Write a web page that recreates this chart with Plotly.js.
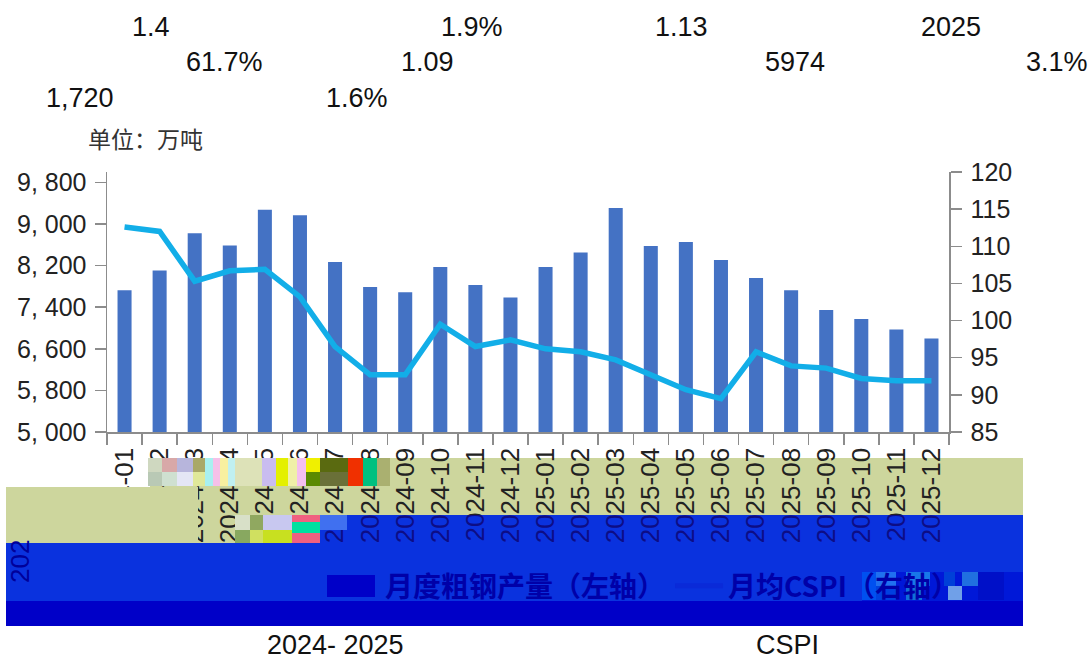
<!DOCTYPE html>
<html><head><meta charset="utf-8">
<script src="https://cdn.plot.ly/plotly-3.0.1.min.js"></script>
<style>html,body{margin:0;padding:0;background:#fff}#c{width:1091px;height:657px}</style>
</head><body><div id="c"></div>
<script>
const months=["2024-01","2024-02","2024-03","2024-04","2024-05","2024-06","2024-07","2024-08","2024-09","2024-10","2024-11","2024-12","2025-01","2025-02","2025-03","2025-04","2025-05","2025-06","2025-07","2025-08","2025-09","2025-10","2025-11","2025-12"];
const steelOutput=[7726,8105,8821,8585,9276,9166,8270,7790,7688,8174,7828,7586,8174,8450,9307,8577,8654,8308,7963,7726,7348,7175,6972,6799];
const cspi=[112.6,112.0,105.3,106.7,106.9,103.2,96.5,92.7,92.7,99.5,96.5,97.4,96.2,95.8,94.7,92.7,90.7,89.5,95.8,93.9,93.6,92.2,91.9,91.9];
const leftTicks=[5000,5800,6600,7400,8200,9000,9800];
const leftLabels=["5, 000","5, 800","6, 600","7, 400","8, 200","9, 000","9, 800"];
const rightTicks=[85,90,95,100,105,110,115,120];
const headerTexts=[["1.4",151,27],["1.9%",472,27],["1.13",681,27],["2025",951,27],["61.7%",224,62],["1.09",427,62],["5974",795,62],["3.1%",1057,62],["1,720",80,98],["1.6%",357,98],["2024- 2025",335,645],["CSPI",787,645]];
const seriesNames=["月度粗钢产量（左轴）","月均CSPI（右轴）"];
const W=1091,H=657,L=107,R=949,T=172,B=432;
const px=x=>(x-L)/(R-L), py=y=>(B-y)/(B-T);
function box(x0,y0,x1,y1,fill,layer,op){return {type:'rect',xref:'paper',yref:'paper',x0:px(x0),x1:px(x1),y0:py(y0),y1:py(y1),fillcolor:fill,line:{width:0},layer:layer||'above',opacity:op==null?1:op};}
const olive='#cdd69d';
// damaged-scan bands of the source picture
const shapes=[
 box(150,458,1023,487,olive,'below'),
 box(6,487,1023,515,olive,'below'),
 box(6,515,320,543,olive,'below'),
 box(320,515,1023,543,'rgb(25,125,255)','below'),
 box(6,543,1023,601,'rgb(25,125,255)','below'),
 box(6,601,1023,626,'#0000c8','below'),
 box(6,487,198,543,olive),
 box(320,515,1023,601,'rgb(0,0,200)','above',0.6),
 box(6,543,320,601,'rgb(0,0,200)','above',0.6),
 box(327,575,375,597,'#0000c8'),
 box(862,572,1023,601,'#0018d8'),
];
const tiles=[
 [148,458,162,472,'#cfd8c0'],[148,472,162,486,'#b9c9b5'],[162,458,177,472,'#d8a8a8'],[162,472,177,486,'#cfe0d0'],
 [177,458,193,472,'#b7b5dc'],[177,472,193,486,'#e4e6f5'],[193,458,205,472,'#a9a868'],[193,472,205,486,'#e0e89a'],
 [205,458,213,486,'#a8f0f0'],[213,458,220,486,'#f5c0e8'],[220,458,228,486,'#f8f0a0'],[228,458,235,486,'#c0f0f0'],
 [235,458,262,486,'#dde2b8'],[262,458,276,486,'#c9bcf0'],[276,458,288,486,'#e4f000'],[288,458,297,486,'#f0f0a8'],
 [297,458,306,486,'#f4bff0'],[306,458,320,472,'#f0f000'],[306,472,320,486,'#5a8a00'],[320,458,348,472,'#5a6a10'],
 [320,472,348,486,'#6a7038'],[348,458,363,486,'#f03000'],[363,458,377,486,'#00c080'],[377,458,390,486,'#aab070'],
 [235,515,250,530,'#d8e0c8'],[235,530,250,543,'#88a860'],[250,515,263,530,'#90a860'],[250,530,263,543,'#d0e060'],
 [263,515,292,530,'#c8c8f0'],[263,530,292,543,'#c8e020'],[292,515,320,522,'#f06080'],[292,522,320,533,'#00e0a0'],[292,533,320,543,'#f06080'],
 [320,515,347,530,'#4070f0'],
 [862,572,876,600,'#0050f0'],[876,572,896,586,'#2070f0'],[876,586,896,600,'#0040e0'],[906,572,930,586,'#1878e8'],[906,586,922,600,'#1070d8'],
 [944,572,955,586,'#0040d8'],[948,586,962,600,'#70a0e8'],[962,572,978,586,'#2070e0'],[978,572,1004,600,'#0010c8']
];
tiles.forEach(t=>shapes.push(box(t[0],t[1],t[2],t[3],t[4],'above')));
const annotations=headerTexts.map(t=>({text:t[0],xref:'paper',yref:'paper',x:px(t[1]),y:py(t[2]),xanchor:'center',yanchor:'middle',showarrow:false,font:{family:'Liberation Sans',size:27,color:'#111'}}));
annotations.push({text:'单位：万吨',xref:'paper',yref:'paper',x:px(145),y:py(138),xanchor:'center',yanchor:'middle',showarrow:false,font:{family:'Noto Sans CJK SC',size:23,color:'#333'}});
annotations.push({text:'202',xref:'paper',yref:'paper',x:px(20),y:py(562),xanchor:'center',yanchor:'middle',showarrow:false,textangle:-90,font:{family:'Liberation Sans',size:26,color:'#00009a'}});
const data=[
 {type:'bar',x:months,y:steelOutput,name:seriesNames[0],marker:{color:'#4472c4'},width:0.4,showlegend:false,yaxis:'y'},
 {type:'scatter',mode:'lines',x:months,y:cspi,name:seriesNames[1],line:{color:'#12aee8',width:5.5},yaxis:'y2',showlegend:false},
 {type:'bar',x:[months[0]],y:[null],name:seriesNames[0],marker:{color:'rgba(0,0,0,0)'},yaxis:'y'},
 {type:'scatter',mode:'lines',x:[months[0]],y:[null],name:seriesNames[1],line:{color:'#0a2ad8',width:5},yaxis:'y2'}
];
const axisGray='#8c8c8c';
const tickFont={family:'Liberation Sans',size:25,color:'#222'};
const layout={
 width:W,height:H,autosize:false,paper_bgcolor:'#fff',plot_bgcolor:'rgba(0,0,0,0)',
 margin:{l:L,r:W-R,t:T,b:H-B,pad:0},
 barmode:'overlay',showlegend:true,
 legend:{orientation:'h',x:px(327),y:py(586),xanchor:'left',yanchor:'middle',font:{family:'Noto Sans CJK SC',size:28,color:'#0000a8',weight:700},itemwidth:48,bgcolor:'rgba(0,0,0,0)',traceorder:'normal'},
 xaxis:{type:'category',categoryorder:'array',categoryarray:months,tickmode:'array',tickvals:months,ticktext:months,tickangle:-90,tickson:'boundaries',ticks:'outside',ticklen:11,tickcolor:axisGray,tickwidth:1.5,showline:true,linecolor:axisGray,linewidth:1.5,showgrid:false,zeroline:false,automargin:false,tickfont:{family:'Liberation Sans',size:26,color:'#222'},ticklabelstandoff:4,range:[-0.5,23.5]},
 yaxis:{range:[5000,10000],tickmode:'array',tickvals:leftTicks,ticktext:leftLabels,ticks:'outside',ticklen:11,tickcolor:axisGray,tickwidth:1.5,showline:true,linecolor:axisGray,linewidth:1.5,showgrid:false,zeroline:false,automargin:false,tickfont:tickFont,ticklabelstandoff:3},
 yaxis2:{overlaying:'y',side:'right',range:[85,120],tickmode:'array',tickvals:rightTicks,ticks:'outside',ticklen:11,tickcolor:axisGray,tickwidth:1.5,showline:true,linecolor:axisGray,linewidth:1.5,showgrid:false,zeroline:false,automargin:false,tickfont:tickFont,ticklabelstandoff:4},
 shapes:shapes,annotations:annotations
};
Plotly.newPlot('c',data,layout,{displayModeBar:false,staticPlot:true});
</script></body></html>
